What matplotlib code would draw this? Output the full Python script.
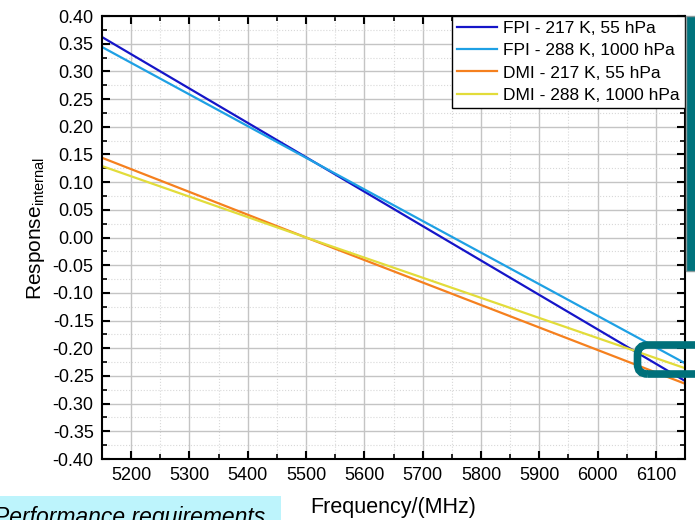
import matplotlib.pyplot as plt
from matplotlib.patches import FancyBboxPatch, Rectangle
from matplotlib.ticker import MultipleLocator

plt.rcParams['font.family'] = ['Liberation Sans', 'DejaVu Sans']

# frequency (MHz) and internal response
freq = [5150, 5500, 6150]
fpi_217 = [0.362, 0.145, -0.259]
fpi_288 = [0.344, 0.144, -0.227]
dmi_217 = [0.144, 0.000, -0.264]
dmi_288 = [0.129, 0.000, -0.236]

labels = ['FPI - 217 K, 55 hPa', 'FPI - 288 K, 1000 hPa',
          'DMI - 217 K, 55 hPa', 'DMI - 288 K, 1000 hPa']
colors = ['#1515c8', '#1ea0e4', '#f5801e', '#e2dc3a']
series = [fpi_217, fpi_288, dmi_217, dmi_288]

fig = plt.figure(figsize=(6.95, 5.2), dpi=100)
ax = fig.add_axes([0.1468, 0.1173, 0.8388, 0.8519])

for vals, lab, col in zip(series, labels, colors):
    ax.plot(freq, vals, color=col, lw=1.6, label=lab)

ax.set_xlim(5150, 6150)
ax.set_ylim(-0.40, 0.40)
ax.xaxis.set_major_locator(MultipleLocator(100))
ax.xaxis.set_minor_locator(MultipleLocator(50))
ax.yaxis.set_major_locator(MultipleLocator(0.05))
ax.yaxis.set_minor_locator(MultipleLocator(0.025))
ax.yaxis.set_major_formatter(plt.FuncFormatter(lambda v, p: f'{v:.2f}'))

ax.grid(which='major', color='#c4c4c4', lw=1.0)
ax.grid(which='minor', color='#d8d8d8', lw=0.8, ls=':')
ax.set_axisbelow(True)
ax.tick_params(which='both', direction='in', top=True, right=True,
               labelsize=13, pad=6)
ax.tick_params(which='major', length=6, width=1.5)
ax.tick_params(which='minor', length=3.5, width=1.2)
for s in ax.spines.values():
    s.set_linewidth(1.5)

ax.set_xlabel('Frequency/(MHz)', fontsize=15.5)
ax.xaxis.set_label_coords(0.5, -0.086)
ax.set_ylabel('Response$_{\\mathregular{internal}}$', fontsize=15)
ax.yaxis.set_label_coords(-0.094, 0.52)

leg = ax.legend(loc='upper right', fontsize=12.5, frameon=True, fancybox=False,
                edgecolor='black', framealpha=1, handlelength=2.3,
                handletextpad=0.35, labelspacing=0.4, borderpad=0.3,
                borderaxespad=0)
leg.get_frame().set_linewidth(1.0)

# slide decorations around the chart, placed in pixels (inches * 100)
px = fig.dpi_scale_trans
fig.patches.append(Rectangle((6.86, 2.49), 0.12, 2.55, transform=px,
                             facecolor='#00737d', edgecolor='#8a9a9c', lw=1))
fig.patches.append(FancyBboxPatch((6.375, 1.46), 1.0, 0.29,
                                  boxstyle='round,pad=0,rounding_size=0.1',
                                  transform=px, facecolor='none',
                                  edgecolor='#00707a', lw=5.5, clip_on=False))
fig.patches.append(Rectangle((0, 0), 2.81, 0.24, transform=px,
                             facecolor='#bdf4fc', edgecolor='none'))
fig.text(-0.008, 1 - 506 / 520, 'Performance requirements', fontsize=16.5,
         style='italic', va='top', ha='left')

fig.savefig('out.png', dpi=100)
